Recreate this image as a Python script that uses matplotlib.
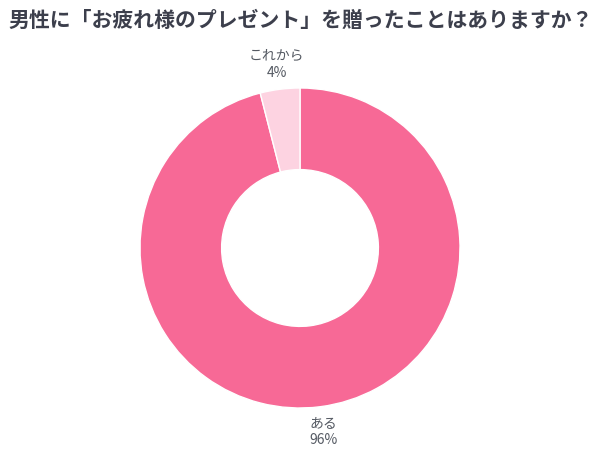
import numpy as np
import matplotlib
matplotlib.use("Agg")
import matplotlib.pyplot as plt

plt.rcParams['font.family'] = ['Noto Sans CJK JP', 'DejaVu Sans']

title = "男性に「お疲れ様のプレゼント」を贈ったことはありますか？"
categories = ["ある", "これから"]
values = [96, 4]
colors = ["#F76996", "#FDD3E1"]

W, H = 602, 451
fig = plt.figure(figsize=(W / 100, H / 100), dpi=100)
ax = fig.add_axes([0, 0, 1, 1])
ax.set_xlim(0, W)
ax.set_ylim(0, H)
ax.set_aspect('equal')
ax.axis('off')

cx, cy, r = 300, H - 248, 160
wedges, _ = ax.pie(values, colors=colors, startangle=90, counterclock=False,
                   center=(cx, cy), radius=r, frame=True,
                   wedgeprops=dict(width=r * 0.51, edgecolor='white', linewidth=1))
ax.set_xlim(0, W)
ax.set_ylim(0, H)
ax.axis('off')

for w, cat, v in zip(wedges, categories, values):
    ang = np.deg2rad((w.theta1 + w.theta2) / 2)
    lx = cx + r * 1.155 * np.cos(ang)
    ly = cy + r * 1.155 * np.sin(ang)
    ax.text(lx, ly, f"{cat}\n{v}%", ha='center', va='center', fontsize=10,
            color='#555a63', linespacing=1.25)

fig.text(0.5, 1 - 20 / H, title, ha='center', va='center', fontsize=15,
         fontweight='bold', color='#3c3f4c')

fig.savefig("out.png", dpi=100, facecolor='white')
